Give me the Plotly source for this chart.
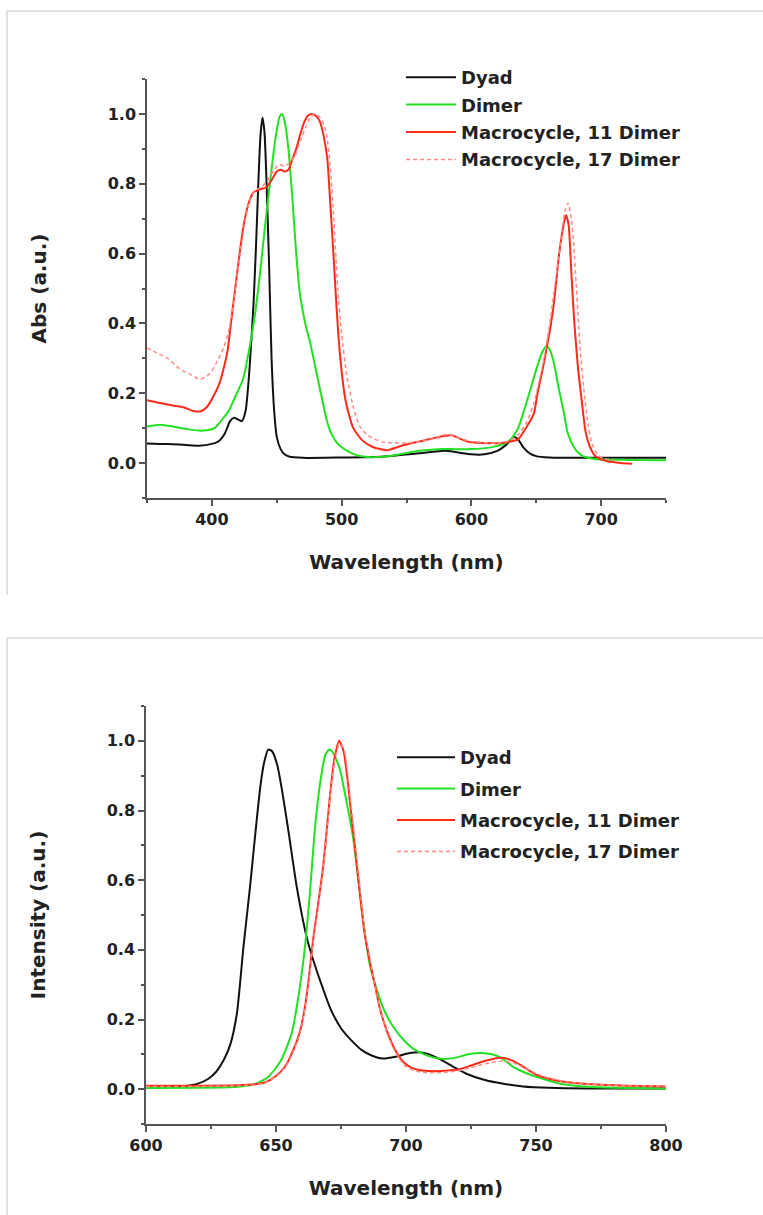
import plotly.graph_objects as go

# ---------------- Absorption (top panel) ----------------
abs_wl_dyad = [350, 360, 370, 380, 390, 400, 405, 410, 414, 417, 420, 423, 426, 429, 432, 434, 436, 437.5, 439, 440.5,
               442, 444, 446, 448, 450, 453, 456, 460, 470, 500, 530, 560, 580, 600, 610, 620, 626, 630, 633, 636,
               640, 645, 650, 660, 700, 750]
abs_dyad = [0.056, 0.055, 0.054, 0.052, 0.05, 0.055, 0.062, 0.085, 0.12, 0.13, 0.125, 0.12, 0.15, 0.27, 0.45, 0.62,
            0.82, 0.94, 0.99, 0.95, 0.82, 0.58, 0.3, 0.15, 0.075, 0.04, 0.025, 0.018, 0.015, 0.016, 0.018, 0.028,
            0.035, 0.025, 0.025, 0.035, 0.05, 0.065, 0.075, 0.068, 0.045, 0.028, 0.02, 0.016, 0.015, 0.015]

abs_wl_dimer = [350, 360, 370, 380, 390, 396, 402, 408, 413, 418, 424, 429, 433, 437, 441, 445, 449, 452, 454, 456,
                459, 462, 465, 468, 472, 476, 480, 484, 488, 492, 497, 503, 510, 518, 525, 540, 560, 580, 600, 615,
                625, 630, 636, 643, 647, 651, 655, 658, 661, 664, 667, 671, 674, 677, 681, 686, 695, 720, 750]
abs_dimer = [0.105, 0.11, 0.105, 0.098, 0.093, 0.094, 0.10, 0.125, 0.15, 0.19, 0.24, 0.33, 0.42, 0.54, 0.68, 0.81,
             0.93, 0.99, 1.0, 0.98, 0.9, 0.76, 0.6, 0.48, 0.4, 0.34, 0.27, 0.2, 0.13, 0.085, 0.055, 0.038, 0.025,
             0.018, 0.017, 0.022, 0.035, 0.04, 0.04, 0.045, 0.055, 0.066, 0.1, 0.18, 0.23, 0.28, 0.32, 0.335, 0.32,
             0.28, 0.22, 0.15, 0.09, 0.06, 0.035, 0.02, 0.012, 0.009, 0.008]

abs_wl_mac11 = [350, 360, 370, 378, 385, 391, 396, 401, 406, 409, 412, 416, 420, 424, 428, 432, 438, 442, 446, 450,
                453, 456, 459, 462, 465, 468, 471, 474, 477, 480, 483, 486, 489, 491, 494, 496, 499, 503, 509, 516,
                524, 535, 545, 555, 565, 575, 580, 585, 590, 597, 605, 615, 622, 630, 636, 642, 648, 651, 655, 658,
                661, 664, 667, 670, 672, 673, 675, 677, 679, 682, 685, 688, 691, 695, 699, 705, 715, 724]
abs_mac11 = [0.18, 0.172, 0.165, 0.16, 0.15, 0.148, 0.16, 0.19, 0.23, 0.27, 0.32, 0.44, 0.56, 0.67, 0.74, 0.775,
             0.785, 0.79, 0.81, 0.835, 0.84, 0.835, 0.84, 0.87, 0.9, 0.94, 0.975, 0.995, 1.0, 0.995, 0.98, 0.94,
             0.87, 0.76, 0.58, 0.45, 0.3, 0.18, 0.1, 0.065, 0.046, 0.037, 0.048, 0.058, 0.066, 0.075, 0.078,
             0.08, 0.072, 0.062, 0.058, 0.057, 0.057, 0.062, 0.068, 0.1, 0.14, 0.2, 0.27, 0.33, 0.39, 0.47, 0.58,
             0.66, 0.7, 0.71, 0.68, 0.55, 0.42, 0.28, 0.18, 0.09, 0.05, 0.022, 0.012, 0.005, 0.0, -0.002]

abs_wl_mac17 = [350, 358, 366, 375, 383, 391, 398, 404, 409, 413, 417, 421, 425, 429, 433, 438, 443, 448, 452, 456,
                460, 464, 468, 472, 476, 479, 482, 485, 488, 491, 494, 497, 500, 504, 509, 514, 520, 526, 532, 540,
                550, 560, 570, 578, 583, 590, 600, 610, 620, 630, 637, 643, 648, 652, 656, 660, 664, 667, 670, 672,
                674.5, 677, 679, 681, 684, 687, 690, 693, 697, 701, 705, 709]
abs_mac17 = [0.33, 0.315, 0.3, 0.27, 0.255, 0.24, 0.255, 0.29, 0.33, 0.38, 0.47, 0.58, 0.68, 0.75, 0.78, 0.79, 0.81,
             0.84, 0.855, 0.85, 0.86, 0.88, 0.92, 0.96, 0.99, 1.0, 0.995, 0.98, 0.95, 0.86, 0.7, 0.5, 0.37, 0.25,
             0.16, 0.105, 0.08, 0.068, 0.06, 0.058, 0.058, 0.062, 0.07, 0.08, 0.082, 0.072, 0.062, 0.058, 0.057,
             0.065, 0.085, 0.12, 0.17, 0.23, 0.3, 0.39, 0.5, 0.58, 0.67, 0.72, 0.745, 0.7, 0.62, 0.5, 0.32, 0.2,
             0.11, 0.055, 0.025, 0.014, 0.01, 0.01]

# ---------------- Emission (bottom panel) ----------------
em_wl_dyad = [600, 610, 616, 620, 624, 627, 630, 632.5, 635, 637.5, 640, 642, 644, 645.5, 647, 648.5, 650.5, 652.5,
              655, 658, 662, 665, 668, 671, 675, 679, 683, 687, 691, 696, 701, 705, 709, 713, 718, 723, 730, 737,
              745, 755, 770, 785, 800]
em_dyad = [0.004, 0.006, 0.01, 0.016, 0.03, 0.05, 0.085, 0.13, 0.22, 0.41, 0.58, 0.73, 0.87, 0.94, 0.975, 0.97,
           0.93, 0.85, 0.73, 0.58, 0.43, 0.355, 0.29, 0.23, 0.175, 0.14, 0.112, 0.096, 0.088, 0.093, 0.103, 0.106,
           0.1, 0.086, 0.065, 0.045, 0.027, 0.016, 0.008, 0.004, 0.002, 0.002, 0.002]

em_wl_dimer = [600, 620, 635, 642, 647, 652, 656, 658.5, 661, 663, 665, 667, 669, 670.5, 672, 674.5, 677, 679.7,
               682, 684, 686, 689, 692, 695, 699, 703, 708, 712, 716, 720, 724, 729, 733, 737, 741, 745, 749, 755,
               760, 770, 780, 800]
em_dimer = [0.003, 0.004, 0.007, 0.015, 0.035, 0.084, 0.16, 0.26, 0.4, 0.56, 0.75, 0.88, 0.96, 0.975, 0.965, 0.92,
            0.83, 0.72, 0.58, 0.46, 0.36, 0.28, 0.22, 0.18, 0.142, 0.115, 0.097, 0.089, 0.087, 0.092, 0.1, 0.104,
            0.1, 0.088, 0.065, 0.05, 0.038, 0.024, 0.015, 0.007, 0.004, 0.002]

em_wl_mac = [600, 620, 635, 642, 646, 650, 653.5, 656.5, 659, 661, 662.5, 664.3, 666, 668, 669.6, 671, 672.5, 674.3,
             676, 677.5, 678.5, 680, 682, 684, 686, 688, 690, 693, 696, 699, 702, 705, 709, 713, 717, 721, 725, 729,
             733, 737, 741, 745, 750, 755, 762, 770, 780, 790, 800]
em_mac11 = [0.01, 0.01, 0.011, 0.014, 0.02, 0.038, 0.065, 0.11, 0.16, 0.23, 0.31, 0.43, 0.52, 0.63, 0.75, 0.86, 0.95,
            1.0, 0.97, 0.89, 0.82, 0.72, 0.58, 0.45, 0.37, 0.3, 0.23, 0.16, 0.11, 0.078, 0.062, 0.055, 0.052, 0.052,
            0.054, 0.058, 0.068, 0.078, 0.086, 0.09, 0.082, 0.065, 0.042, 0.03, 0.02, 0.015, 0.011, 0.009, 0.008]
em_mac17 = [0.008, 0.008, 0.01, 0.013, 0.019, 0.036, 0.062, 0.105, 0.155, 0.225, 0.3, 0.42, 0.51, 0.62, 0.74, 0.85,
            0.94, 0.99, 0.98, 0.91, 0.84, 0.74, 0.6, 0.46, 0.38, 0.3, 0.23, 0.155, 0.105, 0.072, 0.056, 0.05, 0.047,
            0.047, 0.05, 0.054, 0.062, 0.07, 0.077, 0.08, 0.076, 0.063, 0.045, 0.032, 0.021, 0.015, 0.011, 0.009,
            0.008]

series_names = ["Dyad", "Dimer", "Macrocycle, 11 Dimer", "Macrocycle, 17 Dimer"]
colors = ["#111111", "#22e022", "#ff2a1a", "#ff8c84"]
widths = [2, 2, 2, 1.5]
dashes = ["solid", "solid", "solid", "4px,3px"]

FONT = "DejaVu Sans, Liberation Sans, Arial"
W, H = 763, 1215

fig = go.Figure()

top_data = [(abs_wl_dyad, abs_dyad), (abs_wl_dimer, abs_dimer), (abs_wl_mac11, abs_mac11), (abs_wl_mac17, abs_mac17)]
bot_data = [(em_wl_dyad, em_dyad), (em_wl_dimer, em_dimer), (em_wl_mac, em_mac11), (em_wl_mac, em_mac17)]

for i, (xs, ys) in enumerate(top_data):
    fig.add_trace(go.Scatter(x=xs, y=ys, mode="lines", name=series_names[i], xaxis="x", yaxis="y",
                             line=dict(color=colors[i], width=widths[i], dash=dashes[i], shape="spline", smoothing=0.6),
                             legend="legend", legendgroup="t%d" % i))
for i, (xs, ys) in enumerate(bot_data):
    fig.add_trace(go.Scatter(x=xs, y=ys, mode="lines", name=series_names[i], xaxis="x2", yaxis="y2",
                             line=dict(color=colors[i], width=widths[i], dash=dashes[i], shape="spline", smoothing=0.6),
                             legend="legend2", legendgroup="b%d" % i))

axis_common = dict(showline=True, linecolor="#555555", linewidth=1.5, ticks="outside", ticklen=6, tickwidth=1.5,
                   tickcolor="#555555", showgrid=False, zeroline=False, automargin=False,
                   tickfont=dict(family=FONT, size=16, color="#222222", weight="bold"))
title_font = dict(family=FONT, size=20, color="#222222", weight="bold")
minor_common = dict(ticklen=3, tickwidth=1.5, tickcolor="#555555", ticks="outside", showgrid=False)


def px_x(p):
    return p / W


def px_y(p):
    return 1 - p / H


fig.update_layout(
    width=W, height=H, margin=dict(l=0, r=0, t=0, b=0, pad=0, autoexpand=False),
    paper_bgcolor="white", plot_bgcolor="white",
    xaxis=dict(domain=[px_x(147), px_x(666)], range=[350, 750], anchor="y", tick0=0, dtick=100,
               minor=dict(dtick=50, **minor_common),
               title=dict(text="Wavelength (nm)", font=title_font, standoff=27), **axis_common),
    yaxis=dict(domain=[px_y(498), px_y(79)], range=[-0.1, 1.1], anchor="x", tick0=0, dtick=0.2, tickformat=".1f",
               minor=dict(dtick=0.1, **minor_common),
               title=dict(text="Abs (a.u.)", font=title_font, standoff=56), **axis_common),
    xaxis2=dict(domain=[px_x(146), px_x(666)], range=[600, 800], anchor="y2", tick0=0, dtick=50,
                minor=dict(dtick=25, **minor_common),
                title=dict(text="Wavelength (nm)", font=title_font, standoff=27), **axis_common),
    yaxis2=dict(domain=[px_y(1124), px_y(706)], range=[-0.1, 1.1], anchor="x2", tick0=0, dtick=0.2, tickformat=".1f",
                minor=dict(dtick=0.1, **minor_common),
                title=dict(text="Intensity (a.u.)", font=title_font, standoff=56), **axis_common),
    legend=dict(x=px_x(401), y=px_y(59), xanchor="left", yanchor="top", bgcolor="rgba(0,0,0,0)",
                font=dict(family=FONT, size=18, color="#222222", weight="bold"), itemwidth=50,
                tracegroupgap=1, traceorder="grouped"),
    legend2=dict(x=px_x(392), y=px_y(739), xanchor="left", yanchor="top", bgcolor="rgba(0,0,0,0)",
                 font=dict(family=FONT, size=18, color="#222222", weight="bold"), itemwidth=58,
                 tracegroupgap=5, traceorder="grouped"),
    shapes=[
        dict(type="line", xref="paper", yref="paper", x0=px_x(7), x1=1, y0=px_y(11), y1=px_y(11),
             line=dict(color="#c4c4c4", width=1)),
        dict(type="line", xref="paper", yref="paper", x0=px_x(7), x1=px_x(7), y0=px_y(11), y1=px_y(595),
             line=dict(color="#c4c4c4", width=1)),
        dict(type="line", xref="paper", yref="paper", x0=px_x(7), x1=1, y0=px_y(638), y1=px_y(638),
             line=dict(color="#c4c4c4", width=1)),
        dict(type="line", xref="paper", yref="paper", x0=px_x(7), x1=px_x(7), y0=px_y(638), y1=0,
             line=dict(color="#c4c4c4", width=1)),
    ],
)

fig.write_html("out.html")
